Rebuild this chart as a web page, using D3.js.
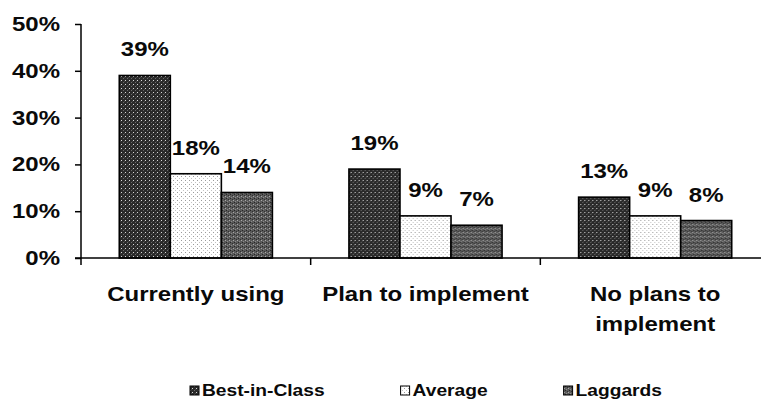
<!DOCTYPE html>
<html>
<head>
<meta charset="utf-8">
<script src="https://cdn.jsdelivr.net/npm/d3@7"></script>
<style>
  html, body { margin: 0; padding: 0; background: #fff; }
  svg { display: block; }
  text { font-family: "Liberation Sans", Arial, sans-serif; font-weight: bold; fill: #0a0a0a; }
</style>
</head>
<body>
<svg id="chart" width="761" height="401"></svg>
<script>
// Adoption status by maturity class
const categories = ["Currently using", "Plan to implement", "No plans to implement"];
const categoryLines = [["Currently using"], ["Plan to implement"], ["No plans to", "implement"]];
const series = ["Best-in-Class", "Average", "Laggards"];
const bestInClass = [0.39, 0.19, 0.13];
const average = [0.18, 0.09, 0.09];
const laggards = [0.14, 0.07, 0.08];
const yTicks = [0, 0.1, 0.2, 0.3, 0.4, 0.5];

const values = [bestInClass, average, laggards];
const data = categories.map((c, i) => ({
  category: c,
  bars: series.map((s, j) => ({ series: s, value: values[j][i] }))
}));

const svg = d3.select("#chart");
const STRETCH = 1.2; // wide lettering
const fmt = d3.format(".0%");

// Fill patterns (speckled textures)
const defs = svg.append("defs");
function speckle(id, base, dots) {
  const p = defs.append("pattern").attr("id", id)
    .attr("width", 4).attr("height", 4).attr("patternUnits", "userSpaceOnUse");
  p.append("rect").attr("width", 4).attr("height", 4).attr("fill", base);
  dots.forEach(([x, y, c]) => p.append("rect").attr("x", x).attr("y", y)
    .attr("width", 1).attr("height", 1).attr("fill", c));
}
speckle("pat-best", "#2a2a2a", [[0, 0, "#d8d8d8"], [2, 2, "#6a6a6a"], [3, 1, "#444"]]);
speckle("pat-avg", "#ffffff", [[0, 0, "#9a9a9a"], [2, 2, "#c4c4c4"]]);
speckle("pat-lag", "#5a5a5a", [[0, 0, "#a8a8a8"], [2, 1, "#8a8a8a"], [1, 2, "#262626"], [3, 3, "#303030"]]);
const fills = { "Best-in-Class": "url(#pat-best)", "Average": "url(#pat-avg)", "Laggards": "url(#pat-lag)" };

const x0 = d3.scaleBand().domain(categories).range([81, 770]).paddingInner(0).paddingOuter(0);
const x1 = d3.scaleBand().domain(series).range([0, x0.bandwidth()]).paddingInner(0).paddingOuter(0.75);
const y = d3.scaleLinear().domain([0, 0.5]).range([258, 24]);

function stretchedText(sel, x, yPos, str, size, anchor) {
  return sel.append("text")
    .attr("transform", `translate(${x},${yPos}) scale(${STRETCH},1)`)
    .attr("text-anchor", anchor)
    .attr("font-size", size)
    .text(str);
}

// Bars
const groups = svg.append("g").selectAll("g").data(data).join("g")
  .attr("transform", d => `translate(${x0(d.category)},0)`);
groups.selectAll("rect").data(d => d.bars).join("rect")
  .attr("x", d => x1(d.series))
  .attr("y", d => y(d.value))
  .attr("width", x1.bandwidth())
  .attr("height", d => y(0) - y(d.value))
  .attr("fill", d => fills[d.series])
  .attr("stroke", "#000")
  .attr("stroke-width", 1.6);

// Value labels
groups.each(function (d) {
  const g = d3.select(this);
  d.bars.forEach(b => {
    stretchedText(g, x1(b.series) + x1.bandwidth() / 2, y(b.value) - 19, fmt(b.value), 20, "middle");
  });
});

// Y axis
const yAxis = d3.axisLeft(y).tickValues(yTicks).tickFormat(fmt).tickSize(6).tickPadding(0);
const yg = svg.append("g").attr("transform", "translate(81,0)").call(yAxis);
yg.select(".domain").attr("stroke", "#000").attr("stroke-width", 1.5).attr("d", `M0,${y(0.5)}V${y(0)}`);
yg.selectAll(".tick line").attr("stroke", "#000").attr("stroke-width", 1.5);
yg.selectAll(".tick text").remove();
yTicks.forEach(t => {
  stretchedText(svg, 60, y(t) + 7, fmt(t), 20, "end");
});

// X axis
const xg = svg.append("g").attr("transform", `translate(0,${y(0)})`);
xg.append("line").attr("x1", 75).attr("x2", 770).attr("y1", 0).attr("y2", 0)
  .attr("stroke", "#000").attr("stroke-width", 1.5);
const boundaries = categories.map(c => x0(c)).concat([x0.range()[1]]);
xg.selectAll("line.tk").data(boundaries).join("line").attr("class", "tk")
  .attr("x1", d => d).attr("x2", d => d).attr("y1", 0).attr("y2", 7)
  .attr("stroke", "#000").attr("stroke-width", 1.5);

// Category labels
categories.forEach((c, i) => {
  const cx = x0(c) + x0.bandwidth() / 2;
  categoryLines[i].forEach((line, k) => {
    stretchedText(svg, cx, 301 + k * 30, line, 20, "middle");
  });
});

// Legend
const legend = svg.append("g");
let lx = 190;
series.forEach(s => {
  legend.append("rect").attr("x", lx).attr("y", 386).attr("width", 9).attr("height", 9)
    .attr("fill", fills[s]).attr("stroke", "#000").attr("stroke-width", 1);
  const t = stretchedText(legend, lx + 12, 396, s, 16, "start");
  const w = t.node().getComputedTextLength() * STRETCH;
  lx += 12 + w + 76;
});
</script>
</body>
</html>
